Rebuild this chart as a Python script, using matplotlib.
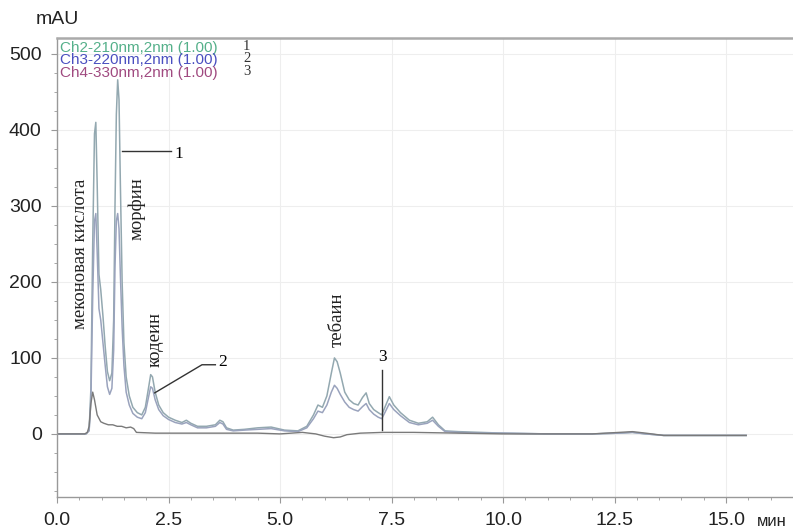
import matplotlib.pyplot as plt
from matplotlib.ticker import MultipleLocator, FormatStrFormatter
import matplotlib.transforms as mtransforms

# Хроматограмма: время (мин) и сигнал (mAU) для трёх каналов
t_ch2 = [0.0, 0.65, 0.72, 0.76, 0.80, 0.84, 0.87, 0.90, 0.94, 0.98, 1.03, 1.08, 1.13, 1.18,
         1.23, 1.27, 1.30, 1.33, 1.36, 1.39, 1.42, 1.46, 1.50, 1.55, 1.62, 1.70, 1.80, 1.90,
         1.98, 2.05, 2.10, 2.14, 2.20, 2.28, 2.38, 2.50, 2.65, 2.80, 2.90, 3.00, 3.15, 3.35,
         3.55, 3.65, 3.72, 3.80, 3.95, 4.20, 4.50, 4.80, 5.10, 5.40, 5.60, 5.75, 5.85, 5.95,
         6.05, 6.15, 6.22, 6.28, 6.35, 6.45, 6.55, 6.65, 6.75, 6.85, 6.93, 7.00, 7.10, 7.20,
         7.28, 7.35, 7.45, 7.55, 7.70, 7.90, 8.10, 8.30, 8.42, 8.55, 8.70, 9.00, 9.50, 10.0,
         11.0, 12.0, 12.6, 12.9, 13.2, 13.6, 14.5, 15.45]
v_ch2 = [0, 0, 5, 60, 250, 395, 410, 330, 210, 190, 155, 115, 82, 70,
         80, 150, 300, 420, 466, 440, 330, 200, 120, 75, 50, 35, 28, 25,
         35, 60, 78, 75, 55, 38, 28, 22, 18, 15, 18, 14, 10, 10,
         12, 18, 16, 8, 5, 6, 8, 9, 5, 4, 10, 25, 38, 35,
         50, 80, 100, 95, 80, 55, 45, 40, 38, 48, 54, 40, 32, 28,
         25, 35, 49, 38, 28, 18, 14, 16, 22, 12, 4, 3, 2, 1,
         0, 0, 1, 2, 0, -2, -2, -2]

t_ch3 = t_ch2
v_ch3 = [0, 0, 4, 45, 180, 280, 290, 240, 165, 150, 120, 90, 62, 52,
         60, 110, 220, 280, 290, 270, 210, 140, 90, 55, 38, 27, 22, 20,
         28, 48, 62, 60, 45, 32, 24, 19, 15, 13, 15, 12, 8, 8,
         10, 15, 13, 6, 4, 5, 6, 7, 4, 3, 8, 20, 30, 28,
         38, 55, 64, 60, 52, 42, 35, 32, 30, 36, 40, 32, 26, 22,
         20, 28, 40, 32, 24, 15, 12, 14, 18, 10, 3, 2, 1, 1,
         0, 0, 1, 2, 0, -2, -2, -2]

t_ch4 = [0.0, 0.62, 0.68, 0.72, 0.76, 0.80, 0.84, 0.90, 0.98, 1.05, 1.15, 1.25, 1.35, 1.45,
         1.55, 1.65, 1.72, 1.78, 2.2, 3.0, 4.0, 4.5, 5.0, 5.5, 5.8, 6.0, 6.2, 6.35, 6.5, 6.8,
         7.3, 8.0, 9.0, 10.0, 11.0, 12.0, 12.6, 12.9, 13.2, 13.6, 14.5, 15.45]
v_ch4 = [0, 0, 2, 10, 40, 55, 45, 25, 16, 14, 12, 12, 10, 10,
         8, 9, 7, 2, 1, 1, 1, 1, 0, 2, 0, -3, -5, -4, -1, 1,
         2, 2, 1, 0, 0, 0, 2, 3, 1, -2, -2, -2]

legend_labels = ['Ch2-210nm,2nm (1.00)', 'Ch3-220nm,2nm (1.00)', 'Ch4-330nm,2nm (1.00)']
legend_colors = ['#55b08a', '#4a4fc0', '#a04a80']
legend_nums = ['1', '2', '3']

# подписи пиков: текст, время, mAU
peak_names = ['меконовая кислота', 'морфин', 'кодеин', 'тебаин']
peak_t = [0.52, 1.79, 2.19, 6.27]
peak_v = [237, 296, 124, 150]

fig = plt.figure(figsize=(7.93, 5.3), dpi=100)
ax = fig.add_axes([0.0719, 0.0623, 0.9281, 0.866])

ax.plot(t_ch2, v_ch2, color='#93a8b0', lw=1.1)
ax.plot(t_ch3, v_ch3, color='#9aa3bd', lw=1.1)
ax.plot(t_ch4, v_ch4, color='#7a7a7a', lw=1.0)

ax.set_xlim(0, 16.5)
ax.set_ylim(-83, 521)
ax.xaxis.set_major_locator(MultipleLocator(2.5))
ax.xaxis.set_minor_locator(MultipleLocator(0.5))
ax.xaxis.set_major_formatter(FormatStrFormatter('%.1f'))
ax.yaxis.set_major_locator(MultipleLocator(100))
ax.yaxis.set_minor_locator(MultipleLocator(25))
ax.set_xticks([0, 2.5, 5, 7.5, 10, 12.5, 15])
ax.set_yticks([0, 100, 200, 300, 400, 500])

for lab in ax.get_xticklabels() + ax.get_yticklabels():
    lab.set_family('Liberation Sans')
    lab.set_fontsize(14)
    lab.set_color('#222222')
ax.tick_params(which='both', direction='out', color='#999999')
ax.tick_params(which='major', length=4, pad=7)
ax.tick_params(which='minor', length=2.5)

ax.grid(True, which='major', color='#eeeeee', lw=0.8)
ax.set_axisbelow(True)
for side in ['left', 'bottom']:
    ax.spines[side].set_color('#999999')
    ax.spines[side].set_linewidth(1.0)
ax.spines['top'].set_color('#aaaaaa')
ax.spines['top'].set_linewidth(1.8)
ax.spines['right'].set_visible(False)

# mAU и мин
fig.text(57 / 793, 1 - 20 / 530, 'mAU', ha='center', va='center',
         family='Liberation Sans', fontsize=14, color='#222222')
trans = mtransforms.blended_transform_factory(ax.transData, fig.transFigure)
ax.text(15.7, 1 - 521 / 530, 'мин', transform=trans, ha='left', va='center',
        family='Liberation Sans', fontsize=12, color='#222222')

# легенда каналов
for i in range(3):
    ax.text(0.06, 508 - i * 16.5, legend_labels[i], color=legend_colors[i],
            family='Liberation Sans', fontsize=11, va='center', ha='left')
    ax.text(4.25, 510 - i * 16.5, legend_nums[i], color='#333333',
            family='Liberation Serif', fontsize=10.5, va='center', ha='center')

# подписи пиков
for name, tx, vy in zip(peak_names, peak_t, peak_v):
    ax.text(tx, vy, name, rotation=90, ha='center', va='center',
            family='Liberation Serif', fontsize=13.5, color='#222222')

# выноски 1, 2, 3
ax.plot([1.46, 2.55], [372, 372], color='#333333', lw=1.0)
ax.text(2.72, 368, '1', family='Liberation Serif', fontsize=12.5, va='center', ha='center')
ax.plot([2.19, 3.25, 3.55], [54, 91, 91], color='#333333', lw=1.0)
ax.text(3.72, 95, '2', family='Liberation Serif', fontsize=12.5, va='center', ha='center')
ax.plot([7.28, 7.28], [5, 84], color='#333333', lw=1.0)
ax.text(7.30, 101, '3', family='Liberation Serif', fontsize=12.5, va='center', ha='center')

fig.savefig('out.png', dpi=100)
